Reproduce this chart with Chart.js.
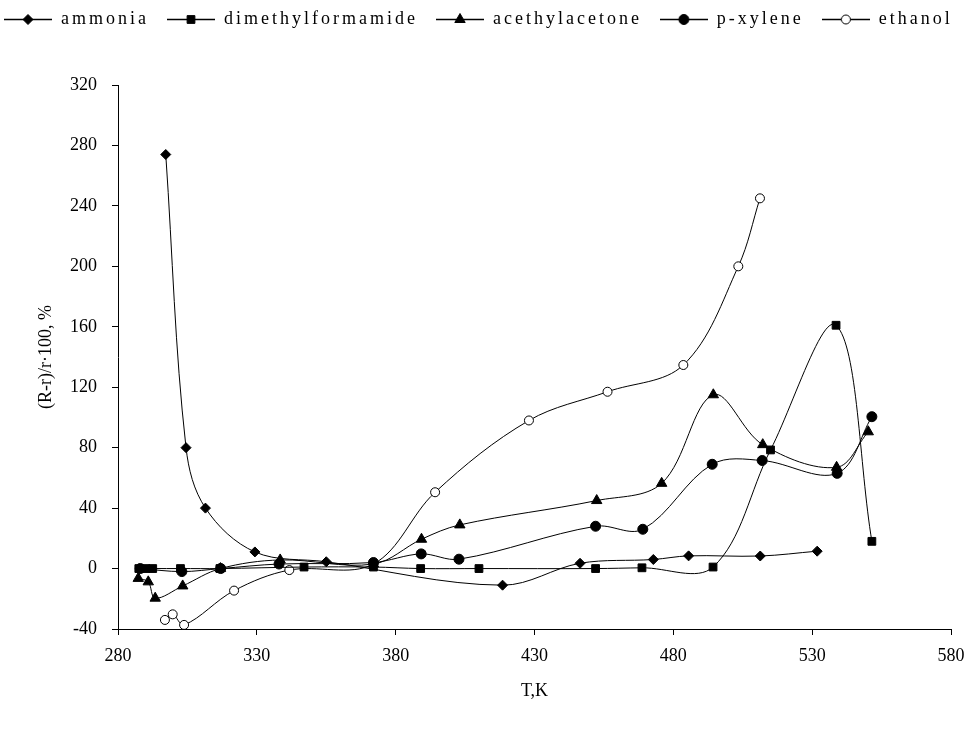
<!DOCTYPE html>
<html>
<head>
<meta charset="utf-8">
<script src="https://cdn.jsdelivr.net/npm/chart.js@4.4.1/dist/chart.umd.min.js"></script>
<style>
  html, body { margin: 0; padding: 0; background: #fff; }
  #wrap { width: 971px; height: 733px; }
</style>
</head>
<body>
<div id="wrap"><canvas id="c" width="971" height="733"></canvas></div>
<script>
// ---- data ----
const seriesNames = ['ammonia', 'dimethylformamide', 'acethylacetone', 'p-xylene', 'ethanol'];

const ammoniaT = [297.2, 304.5, 311.5, 329.3, 355, 418.5, 446.4, 472.8, 485.5, 511.3, 531.8];
const ammoniaV = [274, 80, 40, 11, 4.5, -11, 3.5, 6, 8.4, 8.3, 11.5];

const dmfT = [287.5, 290, 292.5, 302.5, 316.7, 347, 372, 389, 410, 452, 468.7, 494.3, 515, 538.6, 551.5];
const dmfV = [0, 0, 0, 0, 0, 1, 1, 0, 0, 0, 0.5, 1, 78.5, 161, 18];

const acacT = [287.3, 290.9, 293.4, 303.3, 316.9, 338.4, 372, 389.3, 403.1, 452.4, 475.8, 494.4, 512.2, 538.8, 550.2];
const acacV = [-6.5, -8.8, -19.6, -11.5, 0, 5.7, 3, 19.4, 28.9, 45, 56.4, 115, 82, 67, 90.5];

const pxT = [288, 303, 317, 338, 372, 389.2, 402.8, 452, 469, 494, 512, 539, 551.5];
const pxV = [0, -2, 0, 3, 4, 9.7, 6.2, 28, 26, 69, 71.5, 63, 100.5];

const ethT = [296.9, 299.7, 303.8, 321.8, 341.7, 372, 394.2, 428, 456.3, 483.6, 503.4, 511.2];
const ethV = [-34, -30.3, -37.3, -14.6, -1, 3, 50.5, 98, 117, 134.7, 200, 245];

const xTicks = [280, 330, 380, 430, 480, 530, 580];
const yTicks = [-40, 0, 40, 80, 120, 160, 200, 240, 280, 320];
const xTitle = 'T,K';
const yTitle = '(R-r)/r\u00b7100, %';

// ---- helpers ----
function pts(xs, ys) { return xs.map((x, i) => ({ x: x, y: ys[i] })); }

const styles = [
  { pointStyle: 'rectRot', radius: 5, fill: '#000' },
  { pointStyle: 'rect', radius: 5.5, fill: '#000' },
  { pointStyle: 'triangle', radius: 6, fill: '#000' },
  { pointStyle: 'circle', radius: 5, fill: '#000' },
  { pointStyle: 'circle', radius: 4.5, fill: '#fff' }
];

const seriesData = [
  pts(ammoniaT, ammoniaV),
  pts(dmfT, dmfV),
  pts(acacT, acacV),
  pts(pxT, pxV),
  pts(ethT, ethV)
];

const ICON_W = 48;
function legendIcon(st) {
  const cv = document.createElement('canvas');
  cv.width = ICON_W; cv.height = 16;
  const g = cv.getContext('2d');
  g.strokeStyle = '#000'; g.lineWidth = 1.3;
  g.beginPath(); g.moveTo(0, 8.5); g.lineTo(ICON_W, 8.5); g.stroke();
  g.lineWidth = 1;
  g.fillStyle = st.fill;
  Chart.helpers.drawPoint(g, { pointStyle: st.pointStyle, radius: st.radius, borderWidth: 1, rotation: 0 }, ICON_W / 2, 8.5);
  return cv;
}

const datasets = seriesData.map((d, i) => ({
  label: seriesNames[i],
  data: d,
  showLine: true,
  borderColor: '#000',
  borderWidth: 1,
  tension: 0.35,
  pointStyle: styles[i].pointStyle,
  pointRadius: styles[i].radius,
  pointHoverRadius: styles[i].radius,
  pointBackgroundColor: styles[i].fill,
  pointBorderColor: '#000',
  pointBorderWidth: 1
}));

const FONT = 'Liberation Serif';
const LEGEND_SPACING = '3px';
const legendFitPlugin = {
  id: 'legendFit',
  beforeInit(chart) {
    const lg = chart.legend;
    const origFit = lg.fit;
    lg.fit = function () {
      origFit.call(this);
      this.height = 85;
    };
    const origDraw = lg.draw;
    lg.draw = function () {
      const ctx = this.ctx;
      const r = this.right;
      this.right = 100000;
      ctx.save();
      ctx.translate(-14, -8);
      ctx.letterSpacing = LEGEND_SPACING;
      origDraw.call(this);
      ctx.restore();
      this.right = r;
    };
  }
};

new Chart(document.getElementById('c'), {
  type: 'scatter',
  data: { datasets: datasets },
  plugins: [legendFitPlugin],
  options: {
    responsive: false,
    animation: false,
    layout: { padding: { left: 0, right: 20, top: 0, bottom: 0 } },
    plugins: {
      tooltip: { enabled: false },
      legend: {
        position: 'top',
        align: 'start',
        labels: {
          color: '#000',
          font: { family: FONT, size: 18 },
          usePointStyle: true,
          pointStyleWidth: ICON_W,
          padding: 18,
          generateLabels(chart) {
            return chart.data.datasets.map((ds, i) => ({
              text: ds.label,
              pointStyle: legendIcon(styles[i]),
              fillStyle: '#000',
              strokeStyle: '#000',
              lineWidth: 0,
              hidden: false,
              datasetIndex: i,
              fontColor: '#000'
            }));
          }
        }
      }
    },
    scales: {
      x: {
        type: 'linear',
        min: 280, max: 580,
        afterBuildTicks(s) { s.ticks = xTicks.map(v => ({ value: v })); },
        afterFit(s) { s.height = 104; s.paddingLeft = 0; s.paddingRight = 0; },
        border: { display: true, color: '#000', width: 1 },
        grid: { drawOnChartArea: false, drawTicks: true, tickLength: 6, color: '#000' },
        ticks: { color: '#000', font: { family: FONT, size: 18 }, padding: 10, maxRotation: 0 },
        title: { display: true, text: xTitle, color: '#000', font: { family: FONT, size: 18 }, padding: { top: 0, bottom: 31 } }
      },
      y: {
        type: 'linear',
        min: -40, max: 320,
        afterBuildTicks(s) { s.ticks = yTicks.map(v => ({ value: v })); },
        afterFit(s) { s.width = 118; },
        border: { display: true, color: '#000', width: 1 },
        grid: { drawOnChartArea: false, drawTicks: true, tickLength: 6, color: '#000' },
        ticks: { color: '#000', font: { family: FONT, size: 18 }, padding: 15 },
        title: { display: true, text: yTitle, color: '#000', font: { family: FONT, size: 18 }, padding: { top: 35, bottom: 0 } }
      }
    }
  }
});
</script>
</body>
</html>
